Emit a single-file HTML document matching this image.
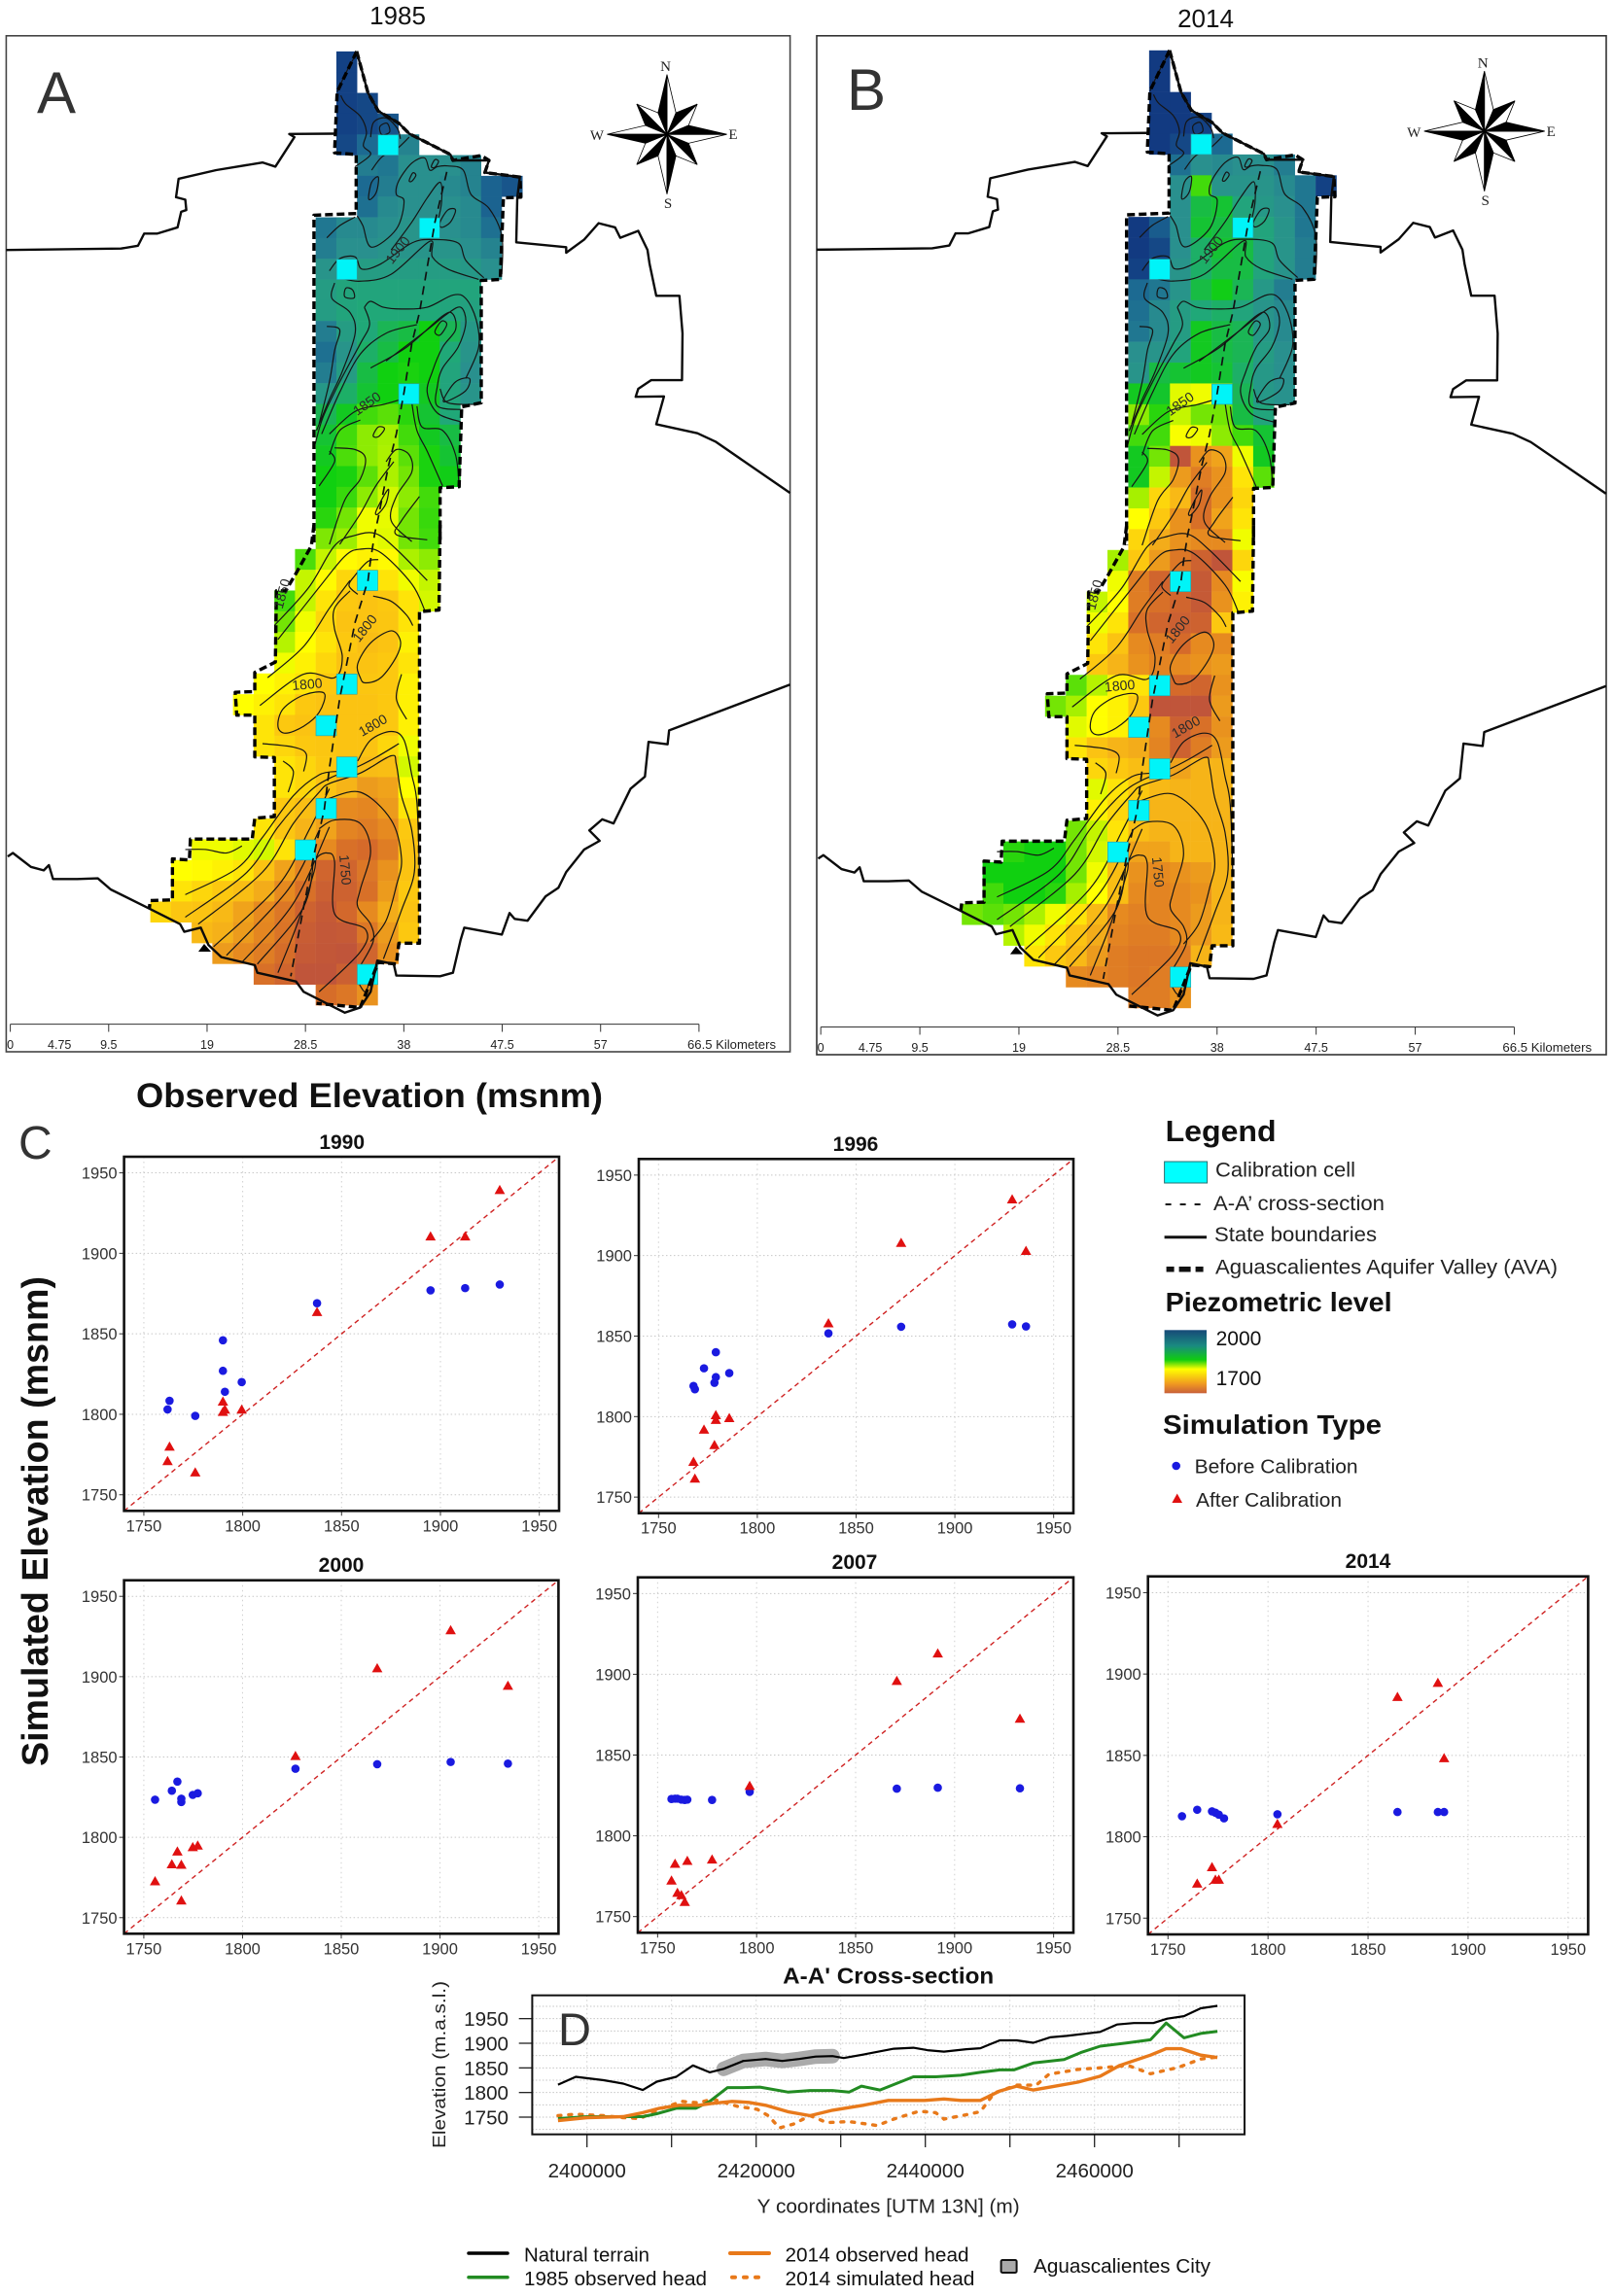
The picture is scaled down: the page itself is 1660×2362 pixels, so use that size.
<!DOCTYPE html>
<html lang="en">
<head>
<meta charset="utf-8">
<title>Aguascalientes Aquifer Valley piezometric maps and calibration</title>
<style>
html,body{margin:0;padding:0;background:#fff;}
svg{display:block;}
text{font-family:"Liberation Sans",sans-serif;fill:#111;}
.serif{font-family:"Liberation Serif",serif;}
</style>
</head>
<body>
<svg id="fig" xmlns="http://www.w3.org/2000/svg" width="1660" height="2362" viewBox="0 0 1660 2362">
  <defs>
    <linearGradient id="pz" x1="0" y1="0" x2="0" y2="1">
      <stop offset="0" stop-color="#174a78"/>
      <stop offset="0.25" stop-color="#1a8a80"/>
      <stop offset="0.47" stop-color="#10cc10"/>
      <stop offset="0.62" stop-color="#ffff00"/>
      <stop offset="0.85" stop-color="#f09a20"/>
      <stop offset="1" stop-color="#c8603a"/>
    </linearGradient>
    <clipPath id="crossClip"><rect x="547.4" y="2052.7" width="732.6" height="143"/></clipPath>
  </defs>
  <rect x="0" y="0" width="1660" height="2362" fill="#fff"/>

  <text x="409" y="25" font-size="26" text-anchor="middle">1985</text>
  <text x="1240" y="28" font-size="26" text-anchor="middle">2014</text>
  <rect x="6.4" y="36.8" width="806.2" height="1045.2" fill="none" stroke="#444" stroke-width="1.6"/>
  <rect x="840" y="36.8" width="812" height="1048.2" fill="none" stroke="#333" stroke-width="1.6"/>
  <g id="mapA"></g>
  <g id="mapB" transform="translate(833.5,-1.3) scale(1.007,1.004)"></g>
  <text x="38" y="116" font-size="60" style="fill:#333">A</text>
  <text x="871" y="113" font-size="60" style="fill:#333">B</text>

  <text x="140" y="1139" font-size="35" font-weight="bold" textLength="480" lengthAdjust="spacingAndGlyphs">Observed Elevation (msnm)</text>
  <text x="19" y="1192" font-size="48" style="fill:#333">C</text>
  <text transform="translate(49,1817) rotate(-90)" font-size="38" font-weight="bold" textLength="504" lengthAdjust="spacingAndGlyphs">Simulated Elevation (msnm)</text>
  <g id="scatters"></g>

  <g>
    <text x="1198.6" y="1174" font-size="31" font-weight="bold" textLength="114" lengthAdjust="spacingAndGlyphs">Legend</text>
    <rect x="1197.6" y="1195" width="44" height="22" fill="#00ffff" stroke="#2b6f70" stroke-width="1"/>
    <text x="1250" y="1210.7" font-size="21" textLength="144" lengthAdjust="spacingAndGlyphs" style="fill:#222">Calibration cell</text>
    <line x1="1198.6" y1="1239" x2="1240" y2="1239" stroke="#111" stroke-width="2" stroke-dasharray="6 9"/>
    <text x="1248" y="1245" font-size="21" textLength="176" lengthAdjust="spacingAndGlyphs" style="fill:#222">A-A’ cross-section</text>
    <line x1="1197.6" y1="1272.7" x2="1241" y2="1272.7" stroke="#111" stroke-width="3"/>
    <text x="1249" y="1277" font-size="21" textLength="167" lengthAdjust="spacingAndGlyphs" style="fill:#222">State boundaries</text>
    <line x1="1199.6" y1="1305.7" x2="1240" y2="1305.7" stroke="#111" stroke-width="5.5" stroke-dasharray="8 5 12 5 8"/>
    <text x="1250" y="1310.7" font-size="21" textLength="352" lengthAdjust="spacingAndGlyphs" style="fill:#222">Aguascalientes Aquifer Valley (AVA)</text>
    <text x="1198.6" y="1349" font-size="28" font-weight="bold" textLength="233" lengthAdjust="spacingAndGlyphs">Piezometric level</text>
    <rect x="1197.6" y="1368.3" width="43.4" height="65" fill="url(#pz)"/>
    <text x="1250.6" y="1384" font-size="21">2000</text>
    <text x="1250.6" y="1425" font-size="21">1700</text>
    <text x="1196" y="1475" font-size="28" font-weight="bold" textLength="225" lengthAdjust="spacingAndGlyphs">Simulation Type</text>
    <circle cx="1209.7" cy="1508" r="4.3" fill="#1a1ae0"/>
    <text x="1228.6" y="1515.7" font-size="20.5" textLength="168" lengthAdjust="spacingAndGlyphs" style="fill:#222">Before Calibration</text>
    <polygon points="1210.7,1536.5 1216,1546 1205.4,1546" fill="#e01010"/>
    <text x="1230" y="1550" font-size="20.5" textLength="150" lengthAdjust="spacingAndGlyphs" style="fill:#222">After Calibration</text>
  </g>

  <g id="cross">
    <text x="913.7" y="2040.7" font-size="23" font-weight="bold" text-anchor="middle" textLength="217" lengthAdjust="spacingAndGlyphs">A-A' Cross-section</text>
    <text transform="translate(458,2210) rotate(-90)" font-size="18" textLength="172" lengthAdjust="spacingAndGlyphs" style="fill:#222">Elevation (m.a.s.l.)</text>
    <text x="913.7" y="2276.7" font-size="20" text-anchor="middle" textLength="270" lengthAdjust="spacingAndGlyphs" style="fill:#222">Y coordinates [UTM 13N] (m)</text>
    <g id="crossPlot"></g>
    <text x="574" y="2104" font-size="47" style="fill:#333">D</text>
  </g>

  <g>
    <line x1="482" y1="2318" x2="522" y2="2318" stroke="#000" stroke-width="3.5" stroke-linecap="round"/>
    <text x="539" y="2326.7" font-size="20" textLength="129" lengthAdjust="spacingAndGlyphs">Natural terrain</text>
    <line x1="482" y1="2342.7" x2="522" y2="2342.7" stroke="#228b22" stroke-width="3.5" stroke-linecap="round"/>
    <text x="539" y="2351" font-size="20" textLength="188" lengthAdjust="spacingAndGlyphs">1985 observed head</text>
    <line x1="751" y1="2318" x2="791" y2="2318" stroke="#e8791a" stroke-width="4" stroke-linecap="round"/>
    <text x="807.5" y="2326.7" font-size="20" textLength="189" lengthAdjust="spacingAndGlyphs">2014 observed head</text>
    <line x1="753" y1="2342.7" x2="780" y2="2342.7" stroke="#e8791a" stroke-width="4" stroke-dasharray="3 9" stroke-linecap="round"/>
    <text x="807.5" y="2351" font-size="20" textLength="195" lengthAdjust="spacingAndGlyphs">2014 simulated head</text>
    <rect x="1029.6" y="2325" width="16" height="13" rx="1.5" fill="#aaa" stroke="#111" stroke-width="2"/>
    <text x="1063" y="2338" font-size="20" textLength="182" lengthAdjust="spacingAndGlyphs">Aguascalientes City</text>
  </g>
</svg>

<script>
// ---------- Scatter data (observed, simulated before / after calibration) ----------
const xTicks = [1750,1800,1850,1900,1950];
const yTicks = [1750,1800,1850,1900,1950];

const observed1990 = [1762,1763,1776,1790,1790,1791,1799.5,1837.6,1895,1912.5,1930];
const before1990 = [1803,1808.4,1799,1846,1827,1814,1820,1869,1877,1878.4,1880.6];
const after1990 = [1771,1780,1764,1801.6,1808,1803,1803,1863.6,1910.6,1910.6,1939.4];

const observed1996 = [1767.7,1768.4,1773,1779,1779,1778.3,1785.8,1836,1872.8,1929,1936];
const before1996 = [1819,1817,1830,1840,1824.5,1821,1827,1851.7,1855.8,1857.3,1856];
const after1996 = [1772,1761.6,1792,1801,1798,1782.4,1799.2,1858,1908,1935,1903];

const observed2000 = [1755.7,1764.2,1767,1769,1769,1774.8,1777.3,1826.8,1868.2,1905.4,1934.4];
const before2000 = [1823.4,1829,1834.7,1822,1824,1826.4,1827.4,1842.7,1845.5,1846.9,1845.9];
const after2000 = [1772.7,1783.3,1791.3,1760.8,1783,1794,1795,1850.7,1905.3,1929,1894.4];

const observed2007 = [1757,1758.8,1760,1762,1763.7,1765,1777.5,1796.5,1870.8,1891.5,1933];
const before2007 = [1822.8,1823,1823,1822.4,1822.2,1822.4,1822.2,1827.2,1829.2,1829.8,1829.4];
const after2007 = [1772.4,1782.8,1764.8,1763.4,1759.2,1784.6,1785.4,1831,1896,1913,1872.6];

const observed2014 = [1757,1764.6,1772,1773.7,1775.4,1778,1804.7,1864.7,1884.9,1888];
const before2014 = [1812.6,1816.6,1815.6,1814.8,1813.6,1811.3,1813.8,1815.2,1815.2,1815.2];
const after2014 = [null,1771.3,1781.4,1773.7,1773.7,null,1808,1886,1894.7,1848.4];

// ---------- Cross-section data ----------
const terrainY = [2396570,2398680,2401980,2404290,2406600,2408250,2410550,2412530,2414510,2416160,2418470,2421110,2423090,2425060,2427040,2429020,2430340,2432980,2436280,2438590,2440240,2442210,2444850,2446500,2448810,2450790,2452770,2454750,2456730,2460680,2462660,2464640,2466950,2468600,2470580,2472560,2474530];
const terrainElev = [1816,1832,1825,1818,1805,1822,1832,1855,1841,1848,1864,1868,1864,1868,1873,1874,1870,1878,1889,1891,1886,1883,1888,1890,1906,1906,1901,1912,1915,1923,1938,1941,1941,1950,1955,1971,1976];
const head1985Y = [2396570,2400000,2404290,2406600,2408250,2410550,2412860,2414510,2416620,2418470,2420450,2423750,2426380,2429020,2431000,2432450,2434630,2438590,2441220,2444190,2446500,2448810,2450460,2452770,2456400,2458370,2460680,2463980,2466620,2468470,2470580,2472560,2474530];
const head1985Elev = [1747,1751,1751,1751,1757,1768,1768,1782,1810,1810,1811,1801,1804,1804,1801,1813,1805,1832,1832,1835,1841,1846,1846,1860,1867,1881,1894,1901,1907,1941,1911,1920,1924];
const observed2014Y = [2396570,2400000,2404290,2406600,2408570,2410880,2413190,2414840,2417150,2419130,2421110,2423750,2426380,2429020,2432650,2435620,2439910,2442210,2444190,2446500,2448810,2450790,2452770,2454750,2458040,2460680,2462990,2466620,2468470,2470250,2472560,2474530];
const observed2014Elev = [1743,1749,1751,1759,1768,1774,1774,1778,1782,1780,1774,1761,1753,1764,1774,1784,1784,1787,1784,1784,1803,1813,1805,1811,1821,1833,1855,1876,1889,1889,1876,1871];
const simulated2014Y = [2396570,2398680,2401980,2404290,2406270,2408570,2411210,2413190,2414840,2417810,2420120,2421440,2422760,2424410,2426380,2428360,2431000,2434300,2436280,2439250,2441220,2442210,2444850,2446500,2448150,2450790,2453100,2454610,2458040,2461340,2463980,2466620,2469920,2472560,2474530];
const simulated2014Elev = [1753,1756,1753,1749,1747,1766,1782,1779,1787,1772,1766,1753,1728,1736,1753,1739,1741,1733,1746,1762,1759,1746,1755,1761,1799,1815,1815,1837,1847,1851,1855,1838,1851,1868,1872];
const cityStartY = 2416000;
const cityEndY = 2429500;
const crossXTicks = [2400000,2410000,2420000,2430000,2440000,2450000,2460000,2470000];
const crossXLabels = [2400000,2420000,2440000,2460000];
const crossYTicks = [1750,1800,1850,1900,1950];
const crossYGrid = [1725,1750,1775,1800,1825,1850,1875,1900,1925,1950,1975];

// ---------- Heatmap: first column of each row, and piezometric level per cell ----------
const colorLevels = [2000,1960,1930,1900,1870,1840,1810,1790,1770,1745,1720,1700];
const colorRamp = ['#10337f','#1c6a92','#29908e','#20a878','#10d010','#a6f000','#ffff00','#fcc810','#f6b418','#e68a20','#d56a2a','#c0553a'];
const rowStartCol = [9,9,9,9,9,10,10,10,8,8,8,8,8,8,8,8,8,8,8,8,8,8,8,8,7,7,6,6,6,6,5,4,5,5,6,6,6,5,2,1,1,0,2,3,5,8];
const calibrationCols = [11,13,9,12,10,9,8,9,8,7,10];
const calibrationRows = [4,8,10,16,25,30,32,34,36,38,44];
const heat1985 = [
[1990],[1990],[1990,1985],[1990,1985,1975],[1985,1960,1950,1940],
[1945,1950,1930,1930,1930,1940],
[1960,1945,1930,1930,1935,1940,1965,1975],
[1955,1935,1930,1930,1930,1935,1965],
[1950,1935,1935,1930,1925,1930,1930,1935,1955],
[1945,1930,1930,1925,1925,1925,1925,1930,1940],
[1925,1915,1915,1915,1915,1915,1915,1920,1930],
[1915,1905,1905,1905,1905,1905,1905,1905],
[1915,1905,1900,1900,1900,1900,1905,1910],
[1945,1915,1900,1890,1885,1870,1890,1920],
[1955,1925,1895,1885,1870,1870,1900,1925],
[1945,1915,1885,1870,1868,1870,1905,1930],
[1920,1895,1880,1870,1868,1875,1905,1925],
[1890,1875,1860,1855,1865,1880,1900],
[1880,1860,1845,1840,1860,1875,1885],
[1875,1858,1845,1838,1855,1868,1880],
[1870,1868,1855,1838,1850,1868,1872],
[1870,1862,1845,1825,1845,1860],
[1865,1850,1815,1818,1850,1862],
[1848,1842,1815,1820,1850,1860],
[1858,1830,1808,1805,1808,1838,1845],
[1830,1808,1795,1795,1800,1815,1830],
[1860,1830,1800,1790,1785,1790,1800,1825],
[1850,1815,1795,1785,1785,1788,1800],
[1835,1810,1800,1790,1780,1785,1805],
[1815,1805,1795,1785,1785,1790,1800],
[1810,1805,1800,1790,1785,1788,1790,1805],
[1810,1805,1800,1790,1785,1785,1785,1790,1805],
[1800,1790,1785,1785,1785,1785,1790,1805],
[1800,1795,1790,1788,1785,1785,1795,1815],
[1800,1795,1790,1785,1778,1780,1825],
[1800,1795,1785,1770,1755,1760,1810],
[1790,1780,1760,1745,1742,1755,1800],
[1800,1788,1770,1760,1740,1735,1745,1790],
[1815,1815,1820,1825,1800,1770,1745,1725,1720,1735,1785],
[1810,1808,1805,1800,1785,1760,1740,1715,1715,1730,1750,1785],
[1800,1795,1790,1780,1765,1745,1725,1710,1712,1725,1755,1790],
[1795,1788,1785,1775,1760,1745,1730,1712,1705,1718,1745,1765,1785],
[1775,1768,1755,1742,1728,1708,1703,1705,1730,1755,1790],
[1755,1745,1735,1722,1705,1702,1700,1715,1750],
[1725,1715,1700,1700,1710,1740],
[1722,1730,1750]
];
const heat2014 = [
[1995],[1995],[1995,1995],[1995,1995,1990],[1995,1985,1970,1960],
[1955,1930,1935,1930,1930,1945],
[1930,1860,1925,1925,1925,1935,1950,1990],
[1930,1885,1880,1905,1920,1930,1950],
[1995,1970,1930,1880,1885,1880,1905,1925,1950],
[1995,1985,1930,1895,1880,1885,1905,1925,1945],
[1990,1985,1925,1895,1885,1885,1905,1925,1945],
[1960,1950,1925,1885,1872,1890,1920,1945],
[1955,1935,1915,1900,1895,1905,1925,1935],
[1950,1935,1915,1875,1885,1890,1920,1935],
[1930,1925,1905,1875,1885,1890,1915,1930],
[1925,1885,1880,1875,1880,1895,1920,1930],
[1875,1878,1820,1815,1810,1890,1920,1928],
[1845,1865,1830,1850,1850,1885,1905],
[1860,1860,1812,1815,1845,1860,1880],
[1875,1850,1700,1750,1760,1815,1875],
[1875,1830,1755,1735,1750,1800,1855],
[1840,1795,1775,1725,1750,1795],
[1810,1790,1750,1725,1760,1800],
[1795,1765,1750,1745,1745,1815],
[1840,1790,1755,1730,1712,1700,1795],
[1815,1735,1715,1710,1705,1745,1812],
[1830,1810,1735,1725,1715,1705,1750,1805],
[1815,1800,1725,1715,1710,1712,1790],
[1800,1785,1745,1735,1720,1745,1745],
[1790,1770,1750,1740,1745,1750,1755],
[1855,1835,1805,1800,1770,1720,1715,1750],
[1850,1840,1810,1805,1790,1700,1700,1700,1755],
[1820,1810,1805,1795,1745,1710,1725,1750],
[1800,1785,1770,1765,1740,1712,1735,1755],
[1795,1790,1780,1760,1760,1770,1770],
[1820,1800,1790,1775,1770,1770,1770],
[1805,1795,1785,1770,1770,1770,1770],
[1850,1830,1800,1780,1770,1770,1770,1770],
[1865,1870,1870,1850,1825,1790,1760,1760,1770,1770,1770],
[1870,1870,1870,1870,1850,1815,1780,1750,1745,1750,1755,1770],
[1860,1870,1870,1865,1840,1810,1780,1745,1740,1745,1750,1770],
[1850,1855,1850,1838,1815,1800,1775,1745,1738,1740,1745,1755,1770],
[1835,1815,1800,1785,1765,1740,1735,1735,1745,1755,1775],
[1800,1790,1775,1755,1735,1730,1730,1735,1770],
[1745,1740,1735,1730,1735,1745],
[1735,1735,1750]
];
const scaleBarKm = [0,4.75,9.5,19,28.5,38,47.5,57];
const scaleBarEndKm = 66.5;

// ---------- Base-map geography (traced outlines, not data) ----------
const stateLinesTop = [
"12,720 235,716 268,708 280,673 305,673 345,655 352,610 362,605 360,575 342,568 347,515 420,490 510,468 535,480 572,395 562,386 650,385",
"693,148 715,268 735,320 775,355 795,385 875,445 880,462 950,462 942,497 1010,510 1005,570 1003,698 1100,712 1100,728 1135,690 1163,643 1195,655 1205,685 1240,665 1258,720 1262,760 1275,852 1320,852 1326,960 1325,1095 1265,1095 1240,1120 1235,1143 1290,1142 1275,1222 1355,1248 1390,1272 1535,1420"
];
const stateLinesBottom = [
"15,955 25,945 60,985 85,995 95,980 103,1020 150,1020 190,1018 215,1050 290,1105 350,1150 358,1172 390,1160 405,1210 430,1245 495,1268 500,1290 575,1315 590,1345 670,1405 700,1390 720,1345 733,1255 765,1265 770,1298 855,1300 880,1290 895,1195 902,1160 975,1180 990,1118 1000,1135 1025,1140 1060,1070 1085,1045 1100,1000 1135,935 1165,910 1145,880 1170,848 1192,860 1225,760 1253,725 1260,625 1297,632 1300,592 1535,460"
];
const avaTop = [
"693,148 655,265 650,440 692,445 692,615 610,620 610,1568",
"693,148 715,268 735,320 775,355 795,385 875,445 880,462 935,448 950,462 942,497 1010,510 1012,568 978,570 972,805 935,808 935,1160 897,1172 892,1402 855,1405 855,1568"
];
const avaBottom = [
"610,0 605,60 575,140 555,190 537,190 535,395 495,425 495,480 457,482 460,548 495,548 495,668 533,670 533,840 495,845 490,905 370,905 368,965 335,962 335,1080 292,1082 290,1105",
"855,0 853,245 815,250 815,1205 775,1205 770,1265 735,1260 700,1390 615,1378"
];
const sectionLine = "868,495 845,640 830,770 815,900 800,990 785,1130 770,1250 755,1340 735,1490 728,1537 720,1612 715,1672 690,1792 660,2012 640,2212 630,2332 610,2462 590,2612 565,2812";
const contoursTop = [
"655,265 672,210 692,155","662,275 672,300 700,335 712,380 706,420 720,445 690,480",
"720,395 726,352 750,340 772,370 778,400","795,395 770,430 742,452 722,490",
"694,622 705,650 722,712 770,660 785,580 770,560 775,520 800,470 825,455 835,490 850,480 870,478 900,490 915,560 950,600 975,680 975,790",
"635,685 660,650 690,625","640,780 660,745 690,740 703,775 740,760 800,700 840,690 890,700 905,750 940,800",
"660,800 700,810 760,790 835,695 840,740 870,775 930,805","760,720 800,640 830,570 855,525 858,580 850,640 840,680",
"650,815 645,860 680,900 690,960 665,1070 640,1150 615,1240","708,885 718,935 700,990 660,1100 628,1200 612,1280",
"635,940 660,950 650,1010 640,1100 620,1220","810,935 750,960 700,1020 660,1130 625,1250",
"708,885 720,868 745,885 780,890 830,885 880,850 905,860 925,920 930,1000 905,1090",
"720,1060 790,1000 860,910 880,905 885,950 860,1000 840,1070 830,1130 850,1190 895,1215",
"750,1040 830,950 868,905 895,885 905,930 890,1000 860,1060 850,1110 850,1170 900,1180",
"855,1120 870,1160 925,1165","640,1250 690,1185 745,1165 780,1150","640,1310 660,1240 700,1210",
"650,1290 690,1295 710,1320 700,1380 670,1440 640,1568","620,1400 650,1330 640,1300",
"750,1330 770,1295 795,1310 800,1360 770,1430 760,1500 800,1560","800,1160 810,1240 830,1300 860,1400",
"810,1170 820,1230 860,1240 885,1310 892,1400","765,1330 730,1400 700,1480 660,1568",
"815,1430 780,1500 770,1540 830,1555"
];
const ringsTop = [
"742,388 738,365 752,355 757,380","716,570 722,525 735,510 732,550 722,572","838,480 845,460 852,465 845,482",
"795,520 802,498 808,505 800,522","855,640 870,605 885,605 875,640 858,655","670,855 672,830 685,835 688,858",
"845,955 858,925 868,935 855,965","862,1150 885,1100 912,1090 905,1125 870,1155","725,1255 735,1230 747,1235 735,1258",
"730,1475 745,1430 755,1410 750,1450 735,1480"
];
const contoursBottom = [
"533,290 600,180 650,60 690,30 730,25 770,70 830,160","540,330 620,180 670,90 700,70 740,80 800,170 825,245",
"695,200 678,175 690,145 715,105 735,100","725,205 760,220 790,260 802,290","520,440 590,350 640,240 680,160",
"505,520 590,430 650,440 665,380 650,300 650,240 680,190","780,430 770,500 790,560","510,630 570,640 595,660 590,710",
"550,680 570,710 560,770","360,1065 460,990 510,900 570,780 620,720 655,710",
"360,1130 480,1000 540,870 600,770 640,730 690,700 730,670 775,630","385,1150 510,1000 570,860 620,770 640,745 700,715 760,665 770,690 780,780 800,880 805,1000 780,1110 745,1250",
"415,1215 540,1040 600,880 640,760","440,1240 560,1050 620,880","470,1260 570,1090 640,870","500,1265 590,1100 610,950",
"540,1290 580,1140 610,1000 615,960 635,945 650,970 650,1120 710,1165 700,1230 620,1345",
"695,680 720,620 760,595 785,620 800,720 810,800 815,1000","620,875 650,850 700,860 720,940 700,1050 695,1100 720,1150 725,1200 700,1270",
"635,790 700,770 760,850 780,960 770,1040 750,1140 720,1200","360,935 400,935 440,945 470,925",
"695,1315 710,1345 720,1300"
];
const ringsBottom = [
"700,440 695,400 720,340 760,305 778,335 770,380 740,440 710,455","540,580 550,530 590,490 630,485 620,540 590,580 555,600"
];

// ---------- helpers ----------
const NS = 'http://www.w3.org/2000/svg';
function mk(tag, attrs, parent){
  const e = document.createElementNS(NS, tag);
  for (const k in attrs) e.setAttribute(k, attrs[k]);
  parent.appendChild(e);
  return e;
}
function pts(s){ return s.split(' ').map(p => p.split(',').map(Number)); }
function polyD(s){ const a = pts(s); return 'M' + a.map(p => p.join(' ')).join('L'); }
function smoothD(s, closed){
  const a = pts(s), n = a.length;
  const at = i => closed ? a[(i + n) % n] : a[Math.max(0, Math.min(n - 1, i))];
  let d = 'M' + a[0][0] + ' ' + a[0][1];
  const last = closed ? n : n - 1;
  for (let i = 0; i < last; i++){
    const p0 = at(i - 1), p1 = at(i), p2 = at(i + 1), p3 = at(i + 2);
    d += 'C' + (p1[0] + (p2[0] - p0[0]) / 6).toFixed(1) + ' ' + (p1[1] + (p2[1] - p0[1]) / 6).toFixed(1) + ' ' +
         (p2[0] - (p3[0] - p1[0]) / 6).toFixed(1) + ' ' + (p2[1] - (p3[1] - p1[1]) / 6).toFixed(1) + ' ' + p2[0] + ' ' + p2[1];
  }
  return d + (closed ? 'Z' : '');
}
function hex(c){ return [1, 3, 5].map(i => parseInt(c.substr(i, 2), 16)); }
function levelColor(v){
  for (let i = 0; i < colorLevels.length - 1; i++){
    if (v >= colorLevels[i + 1]){
      const t = (colorLevels[i] - v) / (colorLevels[i] - colorLevels[i + 1]);
      const a = hex(colorRamp[i]), b = hex(colorRamp[i + 1]);
      return 'rgb(' + a.map((x, j) => Math.round(x + (b[j] - x) * t)).join(',') + ')';
    }
  }
  return colorRamp[colorRamp.length - 1];
}

// ---------- map ----------
function colX(c){ return 154.6 + 21.26 * c; }
function rowY(r){ return 52.9 + 21.33 * r; }

function geomPath(parent, d, stroke, width, dash, name){
  const p = mk('path', {d: d, fill: 'none', stroke: stroke, 'stroke-width': width, 'stroke-linejoin': 'round', 'vector-effect': 'non-scaling-stroke'}, parent);
  if (dash) p.setAttribute('stroke-dasharray', dash);
  
  
  return p;
}

function drawMap(root, heat, cdx, cdy){
  heat.forEach((vals, r) => {
    vals.forEach((v, i) => {
      const cell = mk('rect', {x: colX(rowStartCol[r] + i), y: rowY(r), width: 21.5, height: 21.6, fill: levelColor(v)}, root);
      
      
    });
  });
  const S = 'scale(' + (1 / 1.889) + ',' + (1 / 2.8) + ')';
  const gTop = mk('g', {transform: S}, root);
  
  
  const gBot = mk('g', {transform: S + ' translate(0,1512)'}, root);
  
  
  contoursTop.forEach(s => geomPath(gTop, smoothD(s, false), '#151515', 1.2, null, 'piezometric-contour'));
  ringsTop.forEach(s => geomPath(gTop, smoothD(s, true), '#151515', 1.2, null, 'piezometric-contour'));
  contoursBottom.forEach(s => geomPath(gBot, smoothD(s, false), '#151515', 1.2, null, 'piezometric-contour'));
  ringsBottom.forEach(s => geomPath(gBot, smoothD(s, true), '#151515', 1.2, null, 'piezometric-contour'));

  calibrationCols.forEach((c, i) => {
    const cell = mk('rect', {x: colX(c) + 0.3, y: rowY(calibrationRows[i]) + 0.6, width: 21, height: 20.8, fill: '#00f4f8', stroke: '#2a9ea5', 'stroke-width': 0.6}, root);
    
    
  });
  const gOver = mk('g', {transform: S}, root);
  
  
  geomPath(gOver, polyD(sectionLine), '#111', 1.7, '9 6', 'a-a-cross-section-line');
  const gTop2 = mk('g', {transform: S}, root);
  
  
  const gBot2 = mk('g', {transform: S + ' translate(0,1512)'}, root);
  
  
  avaTop.forEach(s => geomPath(gTop2, polyD(s), '#000', 3.4, '8 4', 'ava-boundary'));
  avaBottom.forEach(s => geomPath(gBot2, polyD(s), '#000', 3.4, '8 4', 'ava-boundary'));
  stateLinesTop.forEach(s => geomPath(gTop2, polyD(s), '#0b0b0b', 2.4, null, 'state-boundary'));
  stateLinesBottom.forEach(s => geomPath(gBot2, polyD(s), '#0b0b0b', 2.4, null, 'state-boundary'));

  const nick = mk('polygon', {points: '204,979 217,979 210,971', fill: '#000'}, root);
  
  

  const labels = [['1900',410,258,-52],['1850',378,416,-35],['1850',291,611,-75],['1800',376,647,-52],['1800',316,705,-5],['1800',384,747,-30],['1750',354,895,85]];
  labels.forEach(l => {
    const t = mk('text', {transform: 'translate(' + l[1] + ',' + l[2] + ') rotate(' + l[3] + ')', 'font-size': 14, 'text-anchor': 'middle', 'dominant-baseline': 'middle', style: 'fill:#2a2a2a'}, root);
    t.textContent = l[0];
    
    
  });

  // compass
  const cx = 686 + cdx, cy = 138.2 + cdy;
  const comp = mk('g', {}, root);
  
  
  const pol = (deg, rad) => [cx + rad * Math.sin(deg * Math.PI / 180), cy - rad * Math.cos(deg * Math.PI / 180)];
  [45, 135, 225, 315, 0, 90, 180, 270].forEach(a => {
    const R = a % 90 === 0 ? 61.5 : 44, w = 24;
    const tip = pol(a, R), wl = pol(a - 22.5, w), wr = pol(a + 22.5, w);
    const p1 = mk('polygon', {points: [[cx, cy], tip, wr].map(p => p.join(',')).join(' '), fill: '#fff', stroke: '#000', 'stroke-width': 0.8}, comp);
    
    
    const p2 = mk('polygon', {points: [[cx, cy], tip, wl].map(p => p.join(',')).join(' '), fill: '#000', stroke: '#000', 'stroke-width': 0.8}, comp);
    
    
  });
  [['N', -1.5, -65], ['S', 1, 76], ['W', -72, 6], ['E', 68, 5]].forEach(d => {
    const t = mk('text', {x: cx + d[1], y: cy + d[2], 'font-size': 15, 'text-anchor': 'middle', class: 'serif', style: 'font-family:\'Liberation Serif\',serif;fill:#222'}, comp);
    t.textContent = d[0];
    
    
  });

  // scale bar
  const kmX = km => 10.6 + km * (708.3 / scaleBarEndKm);
  const bar = mk('g', {}, root);
  
  
  const base = mk('line', {x1: kmX(0), y1: 1053.6, x2: kmX(scaleBarEndKm), y2: 1053.6, stroke: '#333', 'stroke-width': 1}, bar);
  
  
  scaleBarKm.concat([scaleBarEndKm]).forEach(km => {
    if (km === 4.75) return;
    const tk = mk('line', {x1: kmX(km), y1: 1053.6, x2: kmX(km), y2: 1061.5, stroke: '#333', 'stroke-width': 1}, bar);
    
    
  });
  scaleBarKm.forEach(km => {
    const t = mk('text', {x: kmX(km), y: 1079, 'font-size': 12.5, 'text-anchor': 'middle', style: 'fill:#222'}, bar);
    t.textContent = String(km);
    
    
  });
  const kmLabel = mk('text', {x: 707, y: 1079, 'font-size': 12.5, textLength: 91, lengthAdjust: 'spacingAndGlyphs', style: 'fill:#222'}, bar);
  kmLabel.textContent = scaleBarEndKm + ' Kilometers';
  
  
}

drawMap(document.getElementById('mapA'), heat1985, 0, 0);
drawMap(document.getElementById('mapB'), heat2014, 2.4, -2.5);

// ---------- scatter ----------
const scatterRoot = document.getElementById('scatters');
function drawScatter(title, l, t, r, b, titleX, titleY, observed, before, after){
  const g = mk('g', {}, scatterRoot);
  
  
  const X = v => l + (v - 1740) / 220 * (r - l);
  const Y = v => b - (v - 1740) / 220 * (b - t);
  xTicks.forEach(v => {
    const gl = mk('line', {x1: X(v), y1: t, x2: X(v), y2: b, stroke: '#cfcfcf', 'stroke-width': 1, 'stroke-dasharray': '1.5 3.5'}, g);
    
    
    const tk = mk('line', {x1: X(v), y1: b, x2: X(v), y2: b + 5, stroke: '#333', 'stroke-width': 1}, g);
    
    
    const lb = mk('text', {x: X(v), y: b + 21, 'font-size': 16.5, 'text-anchor': 'middle', style: 'fill:#333'}, g);
    lb.textContent = v;
    
    
  });
  yTicks.forEach(v => {
    const gl = mk('line', {x1: l, y1: Y(v), x2: r, y2: Y(v), stroke: '#c8c8c8', 'stroke-width': 1, 'stroke-dasharray': '1.5 2.5'}, g);
    
    
    const tk = mk('line', {x1: l - 5, y1: Y(v), x2: l, y2: Y(v), stroke: '#333', 'stroke-width': 1}, g);
    
    
    const lb = mk('text', {x: l - 7, y: Y(v) + 6, 'font-size': 16.5, 'text-anchor': 'end', style: 'fill:#333'}, g);
    lb.textContent = v;
    
    
  });
  const diag = mk('line', {x1: X(1740), y1: Y(1740), x2: X(1960), y2: Y(1960), stroke: '#cf2222', 'stroke-width': 1.4, 'stroke-dasharray': '5 4'}, g);
  
  
  observed.forEach((o, i) => {
    const c = mk('circle', {cx: X(o), cy: Y(before[i]), r: 4.3, fill: '#1a1ae0'}, g);
    
    
  });
  observed.forEach((o, i) => {
    if (after[i] === null) return;
    const cx = X(o), cy = Y(after[i]);
    const tri = mk('polygon', {points: cx + ',' + (cy - 5.2) + ' ' + (cx + 5.4) + ',' + (cy + 4.3) + ' ' + (cx - 5.4) + ',' + (cy + 4.3), fill: '#e01010'}, g);
    
    
  });
  const fr = mk('rect', {x: l, y: t, width: r - l, height: b - t, fill: 'none', stroke: '#111', 'stroke-width': 2.6}, g);
  
  
  const ti = mk('text', {x: titleX, y: titleY, 'font-size': 21, 'font-weight': 'bold', 'text-anchor': 'middle'}, g);
  ti.textContent = title;
  
  
}
drawScatter('1990', 127.6, 1190, 575, 1554.3, 351.7, 1182, observed1990, before1990, after1990);
drawScatter('1996', 657, 1192.3, 1104, 1556.7, 880, 1184, observed1996, before1996, after1996);
drawScatter('2000', 127.6, 1625.7, 574.4, 1989.3, 351, 1617, observed2000, before2000, after2000);
drawScatter('2007', 656, 1622.7, 1104, 1988.3, 879, 1614, observed2007, before2007, after2007);
drawScatter('2014', 1180.7, 1621.7, 1633.4, 1990, 1407, 1613, observed2014, before2014, after2014);

// ---------- cross-section ----------
const cp = document.getElementById('crossPlot');
const cX = v => 603.7 + (v - 2400000) * 0.0087;
const cY = v => 2178 - (v - 1750) * 0.5067;
crossYGrid.forEach(v => {
  const gl = mk('line', {x1: 547.4, y1: cY(v), x2: 1280, y2: cY(v), stroke: '#c4c4c4', 'stroke-width': 1, 'stroke-dasharray': '1.5 2'}, cp);
  
  
});
crossXTicks.forEach(v => {
  const gl = mk('line', {x1: cX(v), y1: 2052.7, x2: cX(v), y2: 2195.7, stroke: '#d0d0d0', 'stroke-width': 1, 'stroke-dasharray': '1.5 3'}, cp);
  
  
  const tk = mk('line', {x1: cX(v), y1: 2195.7, x2: cX(v), y2: 2209, stroke: '#222', 'stroke-width': 1.3}, cp);
  
  
});
crossXLabels.forEach(v => {
  const lb = mk('text', {x: cX(v), y: 2240, 'font-size': 20.6, 'text-anchor': 'middle', style: 'fill:#222'}, cp);
  lb.textContent = v;
  
  
});
crossYTicks.forEach(v => {
  const tk = mk('line', {x1: 533.7, y1: cY(v), x2: 547.4, y2: cY(v), stroke: '#222', 'stroke-width': 1.3}, cp);
  
  
  const lb = mk('text', {x: 523, y: cY(v) + 7.5, 'font-size': 20.6, 'text-anchor': 'end', style: 'fill:#222'}, cp);
  lb.textContent = v;
  
  
});
function seriesD(xs, ys){
  return 'M' + xs.map((x, i) => cX(x).toFixed(1) + ' ' + cY(ys[i]).toFixed(1)).join('L');
}
const plotG = mk('g', {'clip-path': 'url(#crossClip)'}, cp);


const cityX = [], cityY = [];
terrainY.forEach((x, i) => { if (x >= cityStartY && x <= cityEndY){ cityX.push(x); cityY.push(terrainElev[i]); } });
const cityLine = mk('path', {d: seriesD(cityX, cityY), fill: 'none', stroke: '#aaaaaa', 'stroke-width': 15, 'stroke-linecap': 'round', 'stroke-linejoin': 'round'}, plotG);


const simLine = mk('path', {d: seriesD(simulated2014Y, simulated2014Elev), fill: 'none', stroke: '#e8791a', 'stroke-width': 3.4, 'stroke-dasharray': '3 8', 'stroke-linecap': 'round'}, plotG);


const greenLine = mk('path', {d: seriesD(head1985Y, head1985Elev), fill: 'none', stroke: '#228b22', 'stroke-width': 3, 'stroke-linejoin': 'round'}, plotG);


const obsLine = mk('path', {d: seriesD(observed2014Y, observed2014Elev), fill: 'none', stroke: '#e8791a', 'stroke-width': 3.4, 'stroke-linejoin': 'round'}, plotG);


const terrainLine = mk('path', {d: seriesD(terrainY, terrainElev), fill: 'none', stroke: '#000', 'stroke-width': 2.2, 'stroke-linejoin': 'round'}, plotG);


const crossFrame = mk('rect', {x: 547.4, y: 2052.7, width: 732.6, height: 143, fill: 'none', stroke: '#111', 'stroke-width': 2}, cp);


</script>
</body>
</html>
